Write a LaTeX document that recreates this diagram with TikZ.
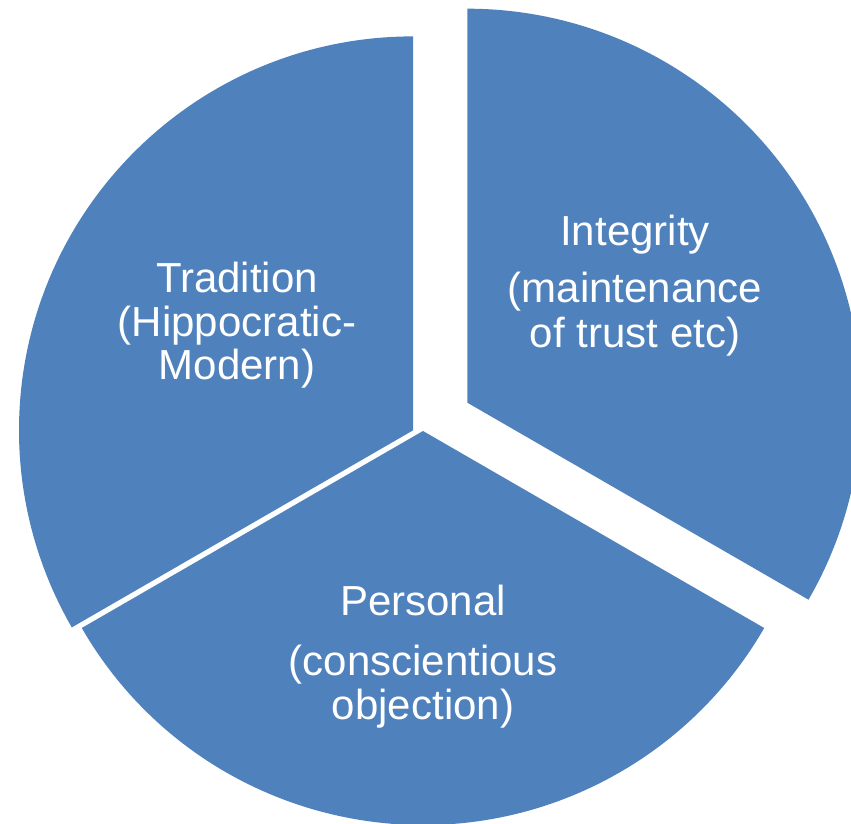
\documentclass[tikz,border=0pt]{standalone}
\usepackage{fontspec}
\setmainfont{Liberation Sans}
\definecolor{pieblue}{RGB}{79,129,189}
\begin{document}
\begin{tikzpicture}[x=1pt,y=1pt,
  slice/.style={fill=pieblue},
  lbl/.style={text=white,anchor=base,inner sep=0pt,font=\fontsize{42}{48}\selectfont}]
\useasboundingbox (0,0) rectangle (851,824);
\clip (0,0) rectangle (851,824);
% Tradition slice
\coordinate (ct) at (413,393.6);
\fill[slice] (ct) -- ++(90:394) arc[start angle=90,end angle=210,radius=394] -- cycle;
% Personal slice
\coordinate (cp) at (423,393);
\fill[slice] (cp) -- ++(210:394) arc[start angle=210,end angle=330,radius=394] -- cycle;
% Integrity slice (exploded)
\coordinate (ci) at (467.3,421.3);
\fill[slice] (ci) -- ++(-30:394) arc[start angle=-30,end angle=90,radius=394] -- cycle;
% labels (baselines converted from pixel rows)
\node[lbl] (t1) at (237,824-293) {Tradition};
\node[lbl] (t2) at (237,824-336.5) {(Hippocratic-};
\node[lbl] (t3) at (237,824-380) {Modern)};
\node[lbl] (i1) at (635,824-246) {Integrity};
\node[lbl] (i2) at (635,824-303) {(maintenance};
\node[lbl] (i3) at (635,824-348) {of trust etc)};
\node[lbl] (p1) at (423,824-615.7) {Personal};
\node[lbl] (p2) at (423,824-676) {(conscientious};
\node[lbl] (p3) at (423,824-720) {objection)};
\end{tikzpicture}
\end{document}
